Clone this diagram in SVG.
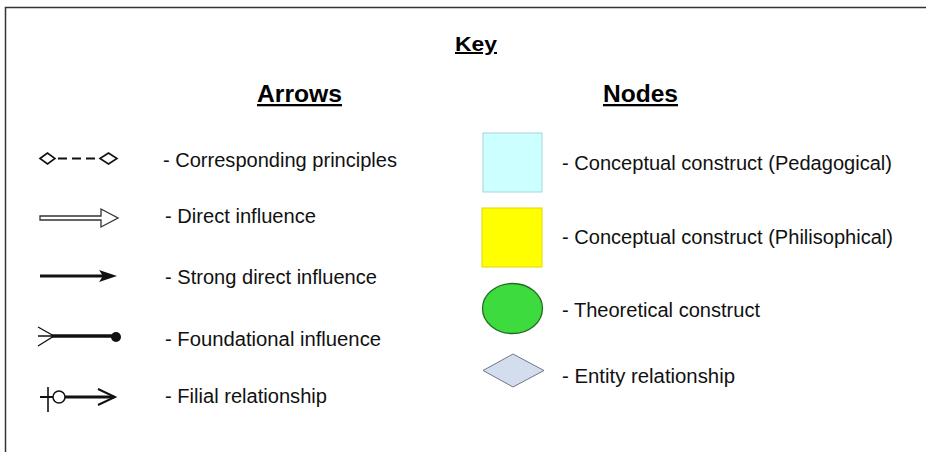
<svg xmlns="http://www.w3.org/2000/svg" width="926" height="452" viewBox="0 0 926 452">
<style>
.t{font-family:"Liberation Sans",Arial,sans-serif;font-size:19.5px;fill:#111}
.h{font-family:"Liberation Sans",Arial,sans-serif;font-weight:bold;fill:#000;text-decoration:underline}
.ln{stroke:#111;fill:none}
</style>
<rect width="926" height="452" fill="#fff"/>
<path d="M5.5,452 V7.5 H926" stroke="#333" stroke-width="1.5" fill="none"/>
<text class="h" x="455" y="51" font-size="20" textLength="42" lengthAdjust="spacingAndGlyphs">Key</text>
<text class="h" x="257" y="102" font-size="23" textLength="85" lengthAdjust="spacingAndGlyphs">Arrows</text>
<text class="h" x="603" y="102" font-size="23" textLength="75" lengthAdjust="spacingAndGlyphs">Nodes</text>
<g id="connectors">
<g id="arrow-corresponding">
<path class="ln" d="M40,158.5 L47.5,153 L55,158.5 L47.5,164 Z" stroke-width="1.6"/>
<path class="ln" d="M56,158.5 H99" stroke-width="2.2" stroke-dasharray="9,5" stroke-dashoffset="-2"/>
<path class="ln" d="M100,158.5 L108.5,153 L117,158.5 L108.5,164 Z" stroke-width="1.6"/>
</g>
<g id="arrow-direct">
<path d="M40,216 L101,216 L101,209 L118,218 L101,227 L101,220 L40,220 Z" fill="#fff" stroke="#333" stroke-width="1.3"/>
</g>
<g id="arrow-strong">
<path class="ln" d="M40,276 H104" stroke-width="3"/>
<path d="M99,270 L117,276 L99,282 L103,276 Z" fill="#111"/>
</g>
<g id="arrow-foundational">
<path class="ln" d="M52,336 H113" stroke-width="3.5"/>
<path class="ln" d="M38,327 L54,336 L38,346 M38,336 H54" stroke-width="1.3"/>
<circle cx="116" cy="337" r="5" fill="#111"/>
</g>
<g id="arrow-filial">
<path class="ln" d="M40,397 H53" stroke-width="2"/>
<path class="ln" d="M48,387 V412" stroke-width="1.6"/>
<circle cx="59" cy="397" r="6" fill="#fff" stroke="#111" stroke-width="1.5"/>
<path class="ln" d="M65,397 H114" stroke-width="3"/>
<path class="ln" d="M98,389 L115,397 L98,405" stroke-width="2"/>
</g>
</g>
<text class="t" x="163" y="167" textLength="234" lengthAdjust="spacingAndGlyphs">- Corresponding principles</text>
<text class="t" x="165" y="223" textLength="151" lengthAdjust="spacingAndGlyphs">- Direct influence</text>
<text class="t" x="165" y="284" textLength="212" lengthAdjust="spacingAndGlyphs">- Strong direct influence</text>
<text class="t" x="165" y="346" textLength="216" lengthAdjust="spacingAndGlyphs">- Foundational influence</text>
<text class="t" x="165" y="403" textLength="162" lengthAdjust="spacingAndGlyphs">- Filial relationship</text>
<g id="node-pedagogical">
<rect x="483" y="133" width="59" height="59" fill="#ccffff" stroke="#a8d4dc" stroke-width="1"/>
<text class="t" x="562" y="170" textLength="330" lengthAdjust="spacingAndGlyphs">- Conceptual construct (Pedagogical)</text>
</g>
<g id="node-philosophical">
<rect x="482" y="208" width="60" height="59" fill="#ffff00" stroke="#e6d800" stroke-width="1"/>
<text class="t" x="562" y="244" textLength="331" lengthAdjust="spacingAndGlyphs">- Conceptual construct (Philisophical)</text>
</g>
<g id="node-theoretical">
<ellipse cx="512.5" cy="308.5" rx="30" ry="25" fill="#3ddb3d" stroke="#1f6e1f" stroke-width="1.3"/>
<text class="t" x="562" y="317" textLength="198" lengthAdjust="spacingAndGlyphs">- Theoretical construct</text>
</g>
<g id="node-entity">
<path d="M483,370.5 L513,354 L544,370.5 L513,387 Z" fill="#d3ddee" stroke="#6e7888" stroke-width="1"/>
<text class="t" x="562" y="383" textLength="173" lengthAdjust="spacingAndGlyphs">- Entity relationship</text>
</g>
</svg>
